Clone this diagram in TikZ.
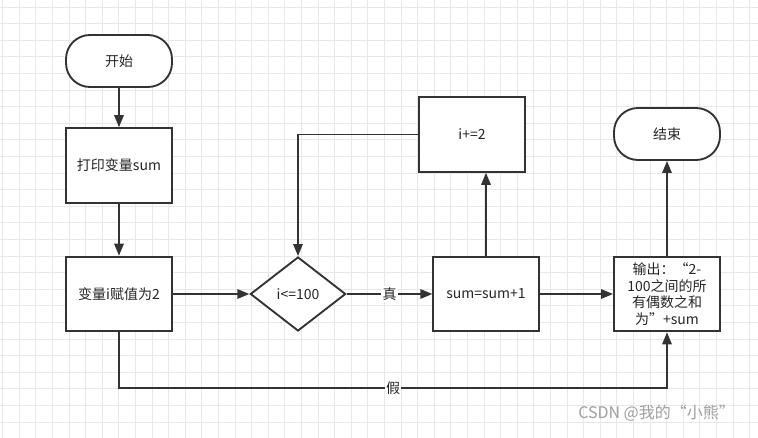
\documentclass[tikz,border=0pt]{standalone}
\usepackage{fontspec}
\setmainfont{Noto Sans CJK SC}
\usetikzlibrary{shapes.geometric,arrows.meta}
\definecolor{linec}{HTML}{333333}
\definecolor{gridc}{HTML}{E8E8E8}
\begin{document}
\begin{tikzpicture}[x=0.75pt,y=-0.75pt,
  base/.style={draw=linec, line width=1.4pt, fill=white, inner sep=0pt,
    font=\fontsize{10.5}{12.5}\selectfont, align=center, text=black!85},
  procbox/.style={base, rectangle, minimum width=79pt, minimum height=56pt},
  termbox/.style={base, rectangle, rounded corners=18pt, minimum width=79.5pt, minimum height=39pt},
  decbox/.style={base, diamond, shape aspect=1.28, minimum width=71.5pt, minimum height=55.5pt},
  arr/.style={draw=linec, line width=1.4pt, -{Triangle[length=9pt,width=7pt]}},
  lab/.style={fill=white, inner sep=1pt, font=\fontsize{10.5}{12}\selectfont, text=black!85},
  gridl/.style={draw=gridc, line width=0.7pt}
]
\useasboundingbox (0,0) rectangle (758,438);
\fill[white] (0,0) rectangle (758,438);
\foreach \i in {0,...,45} {\draw[gridl] ({2.6+\i*16.6},0) -- ({2.6+\i*16.6},438);}
\foreach \j in {0,...,26} {\draw[gridl] (0,{7.1+\j*16.6}) -- (758,{7.1+\j*16.6});}

\node[termbox] (start) at (119,61) {开始};
\node[procbox] (print) at (119,165.5) {打印变量sum};
\node[procbox] (assign) at (119,294) {变量i赋值为2};
\node[decbox] (dec) at (298,294) {i<=100};
\node[procbox] (sum) at (486,294) {sum=sum+1};
\node[procbox] (inc) at (472,134.5) {i+=2};
\node[termbox] (end) at (667,134) {结束};
\node[procbox, minimum width=79.5pt] (out) at (667,294) {输出：“2-\\100之间的所\\有偶数之和\\为”+sum};

\coordinate (fl) at (119,388);
\coordinate (fr) at (667,388);

\draw[arr] (start) -- (print);
\draw[arr] (print) -- (assign);
\draw[arr] (assign) -- (dec);
\draw[arr] (dec) -- node[lab]{真} (sum);
\draw[arr] (sum) -- (out);
\draw[arr] (sum.north) -- (sum.north |- inc.south);
\draw[arr] (inc.west) -| (dec.north);
\draw[arr] (out) -- (end);
\draw[arr] (assign.south) -- (fl) -- node[lab]{假} (fr) -- (out.south);

\node[anchor=west, text=gray!75, font=\fontsize{12}{14}\selectfont, inner sep=0pt] (wm) at (578,413) {CSDN @我的“小熊”};
\end{tikzpicture}
\end{document}
